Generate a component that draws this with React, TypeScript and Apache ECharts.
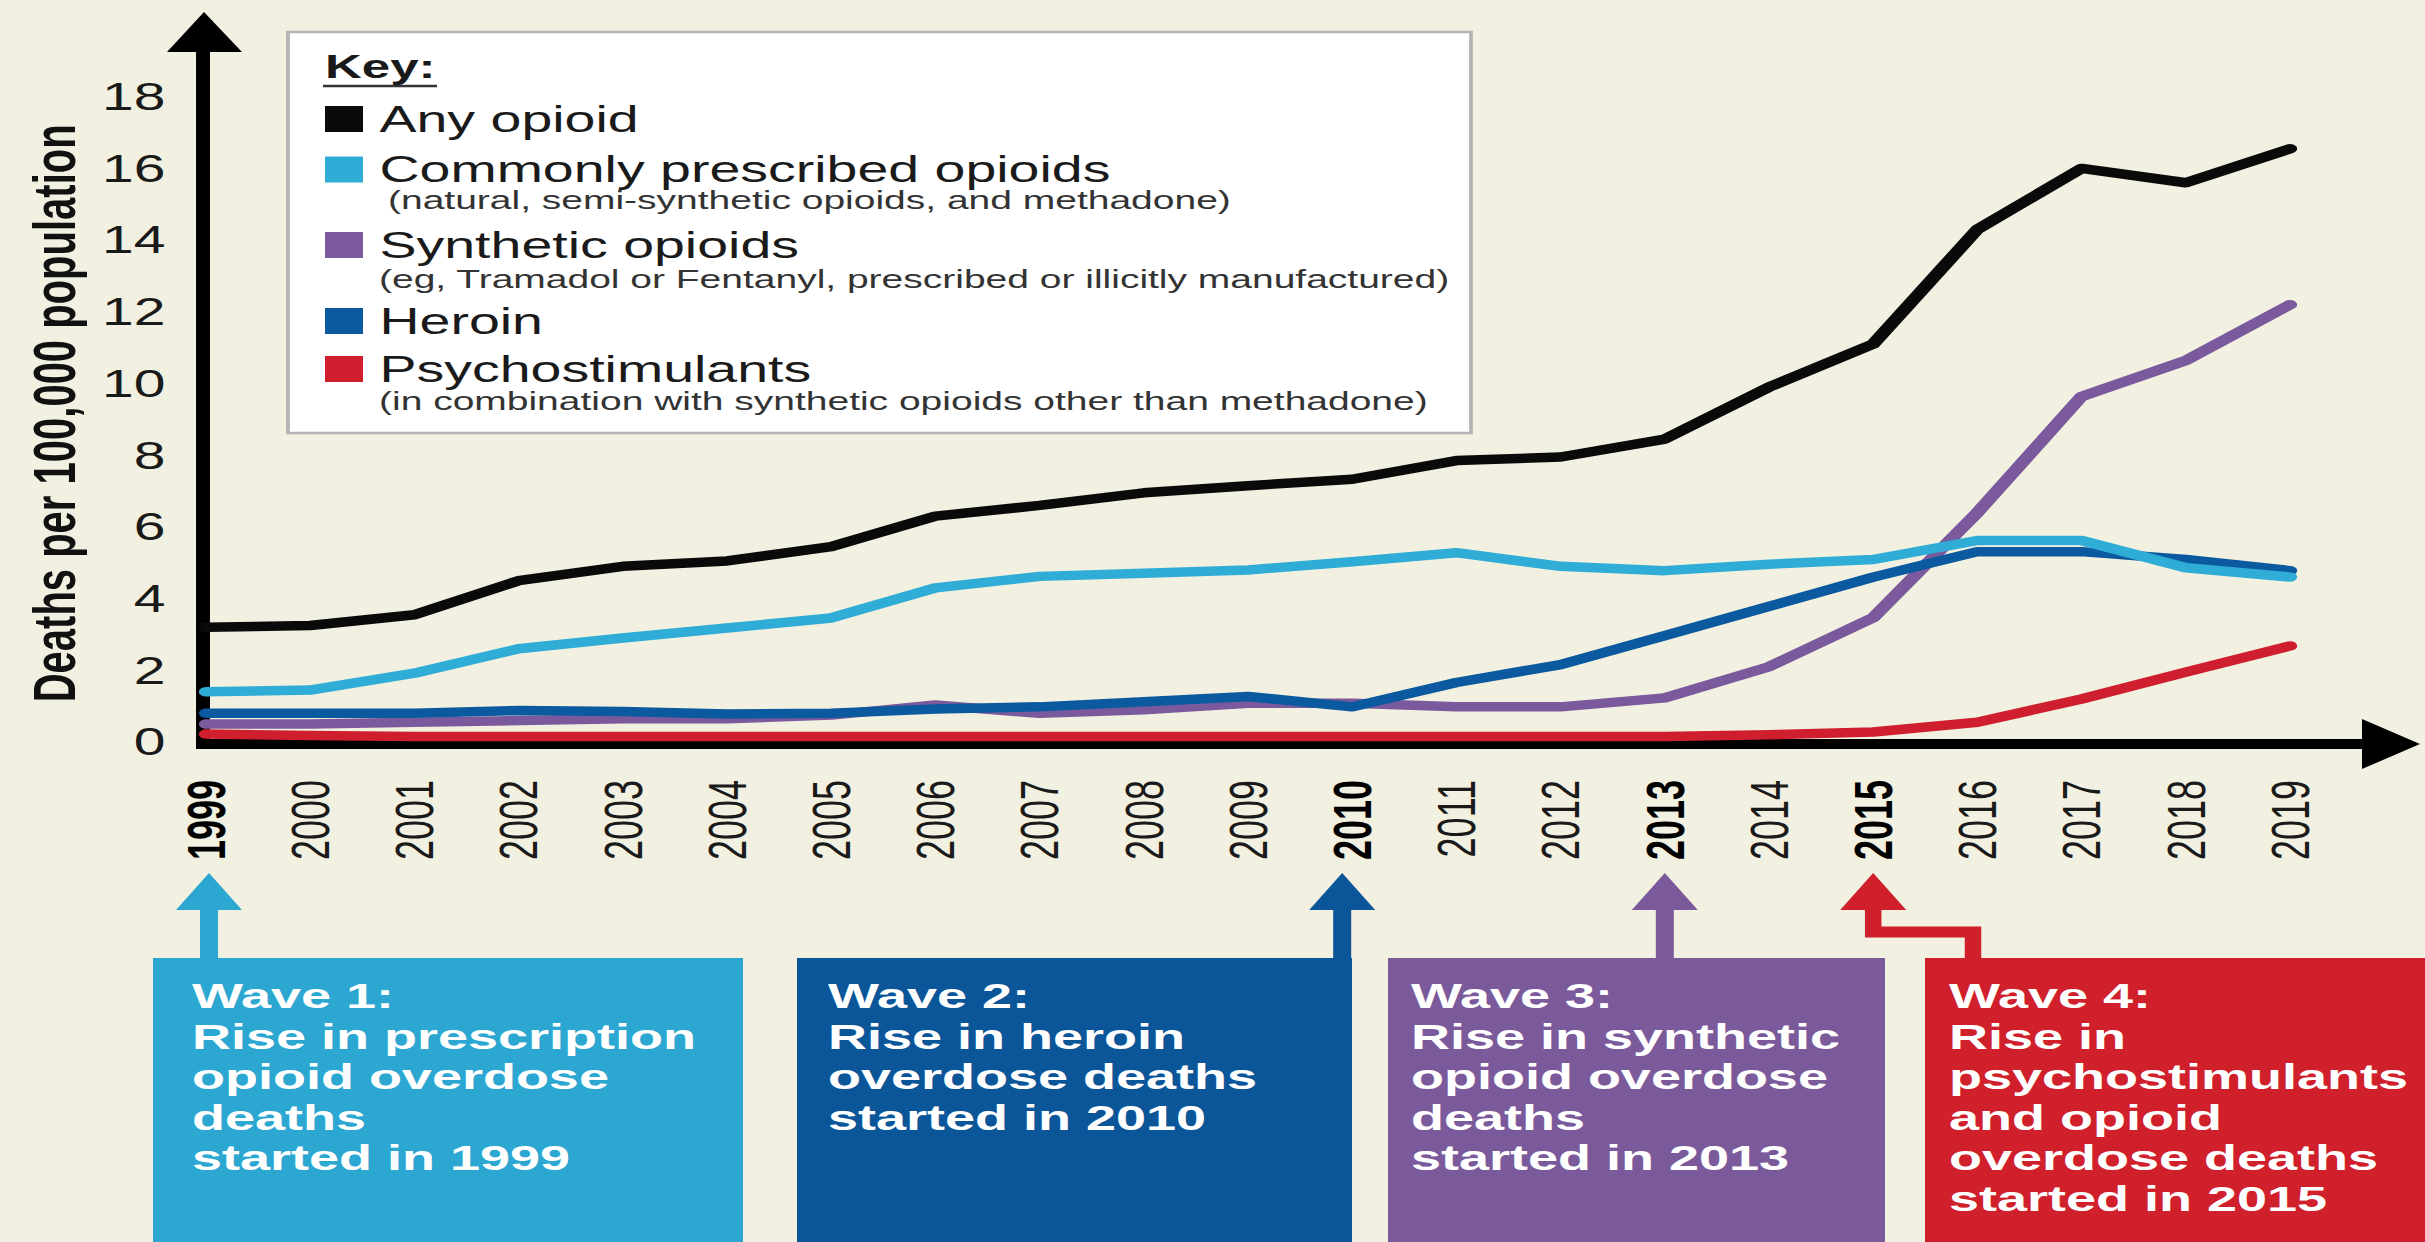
import React, { useEffect, useRef } from "react";
import * as echarts from "echarts";

// ---------- DATA ----------
const years = [
  "1999", "2000", "2001", "2002", "2003", "2004", "2005", "2006", "2007", "2008",
  "2009", "2010", "2011", "2012", "2013", "2014", "2015", "2016", "2017", "2018", "2019",
];
const boldYears = ["1999", "2010", "2013", "2015"];

const anyOpioid = [3.2, 3.25, 3.55, 4.5, 4.9, 5.05, 5.45, 6.3, 6.6, 6.95, 7.15, 7.33, 7.85, 7.95, 8.45, 9.9, 11.1, 14.3, 16.0, 15.6, 16.55];
const prescribed = [1.4, 1.45, 1.92, 2.6, 2.9, 3.18, 3.46, 4.3, 4.62, 4.71, 4.8, 5.03, 5.28, 4.9, 4.78, 4.96, 5.09, 5.62, 5.62, 4.86, 4.6];
const synthetic = [0.5, 0.5, 0.55, 0.6, 0.65, 0.65, 0.75, 1.03, 0.8, 0.9, 1.08, 1.08, 0.98, 0.98, 1.23, 2.1, 3.47, 6.4, 9.64, 10.64, 12.2];
const heroin = [0.8, 0.8, 0.8, 0.88, 0.85, 0.78, 0.8, 0.92, 0.98, 1.12, 1.27, 0.98, 1.66, 2.16, 2.97, 3.78, 4.6, 5.31, 5.31, 5.09, 4.78];
const psychostimulants = [0.22, 0.18, 0.15, 0.15, 0.15, 0.15, 0.15, 0.15, 0.15, 0.15, 0.15, 0.15, 0.15, 0.15, 0.15, 0.2, 0.28, 0.55, 1.2, 1.95, 2.68];

const seriesNames = [
  "Any opioid",
  "Commonly prescribed opioids",
  "Synthetic opioids",
  "Heroin",
  "Psychostimulants",
];
const seriesNotes = [
  "",
  "(natural, semi-synthetic opioids, and methadone)",
  "(eg, Tramadol or Fentanyl, prescribed or illicitly manufactured)",
  "",
  "(in combination with synthetic opioids other than methadone)",
];
const seriesColors = ["#0a0a0a", "#2fadd6", "#7a5a9c", "#0b5a9f", "#cf1f2f"];
const seriesValues = [anyOpioid, prescribed, synthetic, heroin, psychostimulants];
const seriesZ = [10, 8, 6, 7, 5];

const yMin = 0;
const yMax = 18;
const yInterval = 2;
const yAxisTitle = "Deaths per 100,000 population";
const keyTitle = "Key:";

const waveYears = ["1999", "2010", "2013", "2015"];
const waveColors = ["#2ba7d1", "#0b5599", "#7b5a9b", "#d0202c"];
const waveLines = [
  ["Wave 1:", "Rise in prescription", "opioid overdose", "deaths", "started in 1999"],
  ["Wave 2:", "Rise in heroin", "overdose deaths", "started in 2010"],
  ["Wave 3:", "Rise in synthetic", "opioid overdose", "deaths", "started in 2013"],
  ["Wave 4:", "Rise in", "psychostimulants", "and opioid", "overdose deaths", "started in 2015"],
];

// ---------- LAYOUT (page pixels; the chart is drawn narrow and stretched horizontally) ----------
const S = 1.5;
const PAGE_W = 2425;
const PAGE_H = 1242;
const CW = Math.ceil(PAGE_W / S);
const CH = PAGE_H;
const fx = (v: number) => v / S;
const BG = "#f2f0e0";
const FONT = "'Liberation Sans', Arial, Helvetica, sans-serif";

const GRID_L = 206;
const GRID_R = 2290;
const GRID_T = 96.7;
const GRID_B = 742;
const AXIS_Y = 744;
const AXIS_X = 203;
const STEP = (GRID_R - GRID_L) / (years.length - 1);
const yearX = (y: string) => GRID_L + years.indexOf(y) * STEP;

const legendCenters = [119, 169.5, 245, 321, 369];
const noteCenters = [0, 200, 279, 0, 401];
const noteX = [0, 388, 379, 0, 379];

const boxes = [
  [153, 743],
  [797, 1352],
  [1388, 1885],
  [1925, 2425],
];
const boxTop = 958;
const textX = [192, 828, 1411, 1949];
const arrowDx = [3, -10, 0, 0];

function buildOption() {
  const graphics: any[] = [];

  // legend box
  graphics.push({
    type: "rect",
    silent: true,
    z: 0,
    shape: { x: fx(288), y: 32, width: fx(1471 - 288), height: 433 - 32 },
    style: { fill: "#ffffff", stroke: "#b3b3b3", lineWidth: 2.5 },
  });
  graphics.push({
    type: "text",
    silent: true,
    z: 1,
    x: fx(325),
    y: 66,
    style: { text: keyTitle, fontSize: 34, fontWeight: "bold", fill: "#1a1a1a", fontFamily: FONT, verticalAlign: "middle" },
  });
  graphics.push({
    type: "line",
    silent: true,
    z: 1,
    shape: { x1: fx(323), y1: 86, x2: fx(437), y2: 86 },
    style: { stroke: "#333", lineWidth: 2.5 },
  });
  seriesNotes.forEach((n, i) => {
    if (!n) return;
    graphics.push({
      type: "text",
      silent: true,
      z: 1,
      x: fx(noteX[i]),
      y: noteCenters[i],
      style: { text: n, fontSize: 26, fill: "#333", fontFamily: FONT, verticalAlign: "middle" },
    });
  });

  // axes lines with arrows
  graphics.push({
    type: "line",
    silent: true,
    z: 1,
    shape: { x1: fx(AXIS_X), y1: AXIS_Y + 5, x2: fx(AXIS_X), y2: 48 },
    style: { stroke: "#000", lineWidth: 9.3 },
  });
  graphics.push({
    type: "polygon",
    silent: true,
    z: 1,
    shape: { points: [[fx(167), 52], [fx(242), 52], [fx(AXIS_X + 1), 12]] },
    style: { fill: "#000" },
  });
  graphics.push({
    type: "line",
    silent: true,
    z: 1,
    shape: { x1: fx(AXIS_X - 7), y1: AXIS_Y, x2: fx(2366), y2: AXIS_Y },
    style: { stroke: "#000", lineWidth: 10 },
  });
  graphics.push({
    type: "polygon",
    silent: true,
    z: 1,
    shape: { points: [[fx(2362), AXIS_Y - 25], [fx(2362), AXIS_Y + 25], [fx(2420), AXIS_Y]] },
    style: { fill: "#000" },
  });

  // wave boxes, arrows and texts
  waveLines.forEach((lines, i) => {
    const [bx0, bx1] = boxes[i];
    const color = waveColors[i];
    graphics.push({
      type: "rect",
      silent: true,
      z: 1,
      shape: { x: fx(bx0), y: boxTop, width: fx(bx1 - bx0), height: PAGE_H - boxTop },
      style: { fill: color },
    });
    const ax = yearX(waveYears[i]) + arrowDx[i];
    graphics.push({
      type: "polygon",
      silent: true,
      z: 2,
      shape: { points: [[fx(ax - 33), 910], [fx(ax + 33), 910], [fx(ax), 873]] },
      style: { fill: color },
    });
    if (i < 3) {
      graphics.push({
        type: "rect",
        silent: true,
        z: 2,
        shape: { x: fx(ax - 9), y: 906, width: fx(18), height: boxTop + 2 - 906 },
        style: { fill: color },
      });
    } else {
      const ex = 1973;
      graphics.push({
        type: "polyline",
        silent: true,
        z: 2,
        shape: { points: [[fx(ax), 906], [fx(ax), 932], [fx(ex), 932], [fx(ex), boxTop + 2]] },
        style: { stroke: color, lineWidth: 11, fill: null, lineJoin: "miter" },
      });
    }
    graphics.push({
      type: "text",
      silent: true,
      z: 3,
      x: fx(textX[i]),
      y: 975.5,
      style: {
        text: lines.join("\n"),
        fontSize: 36,
        fontWeight: "bold",
        fill: "#ffffff",
        fontFamily: FONT,
        lineHeight: 40.5,
        verticalAlign: "top",
      },
    });
  });

  const legends = seriesNames.map((name, i) => ({
    data: [name],
    left: fx(325),
    top: legendCenters[i] - 18.5,
    padding: 0,
    icon: "rect",
    itemWidth: fx(38),
    itemHeight: 26,
    selectedMode: false,
    z: 5,
    textStyle: {
      fontSize: 37,
      lineHeight: 37,
      color: "#1a1a1a",
      fontFamily: FONT,
      padding: [0, 0, 0, 6],
    },
  }));

  const series = seriesNames.map((name, i) => ({
    name,
    type: "line",
    data: seriesValues[i],
    showSymbol: false,
    symbol: "none",
    z: seriesZ[i],
    color: seriesColors[i],
    lineStyle: { width: 9.5, color: seriesColors[i], cap: "round", join: "round" },
  }));

  return {
    animation: false,
    backgroundColor: BG,
    textStyle: { fontFamily: FONT },
    grid: {
      left: fx(GRID_L),
      right: CW - fx(GRID_R),
      top: GRID_T,
      bottom: CH - GRID_B,
      containLabel: false,
    },
    legend: legends,
    xAxis: {
      type: "category",
      data: years,
      boundaryGap: false,
      axisLine: { show: false },
      axisTick: { show: false },
      splitLine: { show: false },
      axisLabel: {
        interval: 0,
        rotate: 90,
        margin: 38,
        fontSize: 36,
        color: "#1a1a1a",
        fontFamily: FONT,
        formatter: (v: string) => (boldYears.includes(v) ? `{b|${v}}` : `{n|${v}}`),
        rich: {
          n: { fontSize: 36, color: "#1a1a1a", fontFamily: FONT },
          b: { fontSize: 36, fontWeight: "bold", color: "#000", fontFamily: FONT },
        },
      },
    },
    yAxis: {
      type: "value",
      min: yMin,
      max: yMax,
      interval: yInterval,
      name: yAxisTitle,
      nameLocation: "middle",
      nameGap: 81,
      nameTextStyle: {
        fontSize: 40,
        fontWeight: "bold",
        color: "#111",
        fontFamily: FONT,
        padding: [0, 0, 0, 12],
      },
      axisLine: { show: false },
      axisTick: { show: false },
      splitLine: { show: false },
      axisLabel: { fontSize: 38, color: "#1a1a1a", margin: 27, fontFamily: FONT },
    },
    graphic: { elements: graphics },
    series,
  };
}

export default function App() {
  const ref = useRef<HTMLDivElement>(null);
  useEffect(() => {
    document.body.style.margin = "0";
    document.body.style.background = BG;
    document.body.style.overflow = "hidden";
    const chart = echarts.init(ref.current as HTMLDivElement, null, {
      renderer: "svg",
      width: CW,
      height: CH,
    });
    chart.setOption(buildOption() as any);
    return () => {
      chart.dispose();
    };
  }, []);
  return (
    <div style={{ width: PAGE_W, height: PAGE_H, overflow: "hidden", background: BG }}>
      <div
        ref={ref}
        style={{ width: CW, height: CH, transform: `scaleX(${S})`, transformOrigin: "0 0" }}
      />
    </div>
  );
}
